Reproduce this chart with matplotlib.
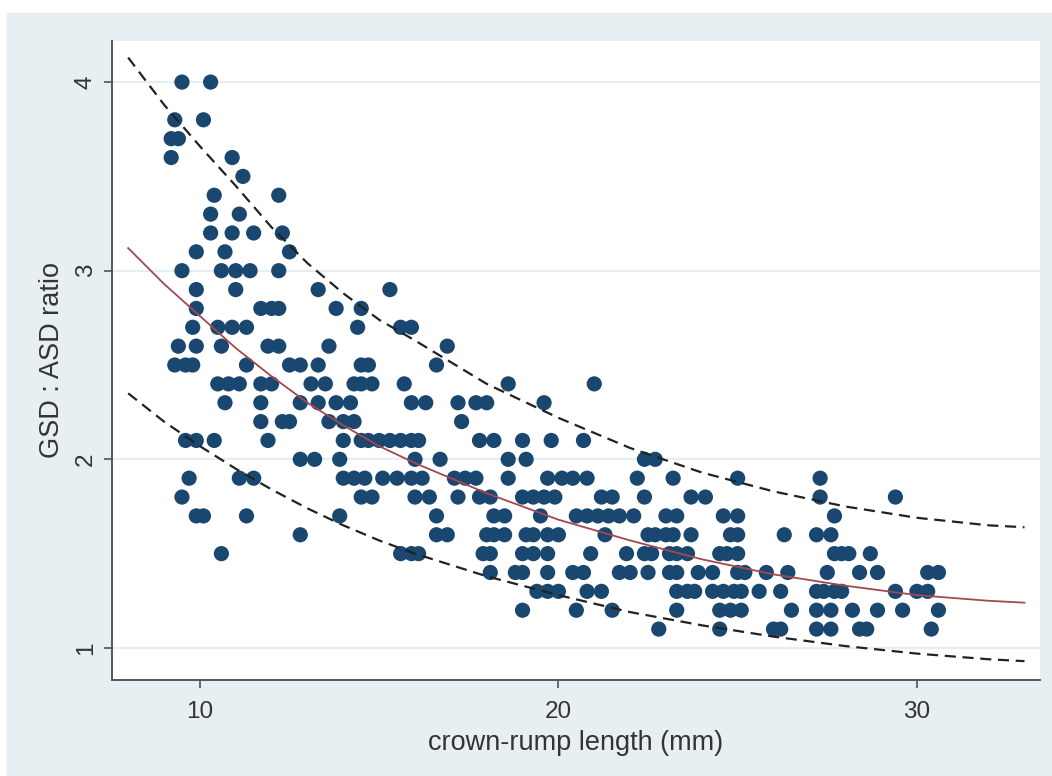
# GSD : ASD ratio against crown-rump length, Stata style scatter with fit and limits
import matplotlib
matplotlib.use("Agg")
import numpy as np
import matplotlib.pyplot as plt
from matplotlib.patches import Rectangle

# scatter data, crown-rump length (mm) at each ratio level
crl_40 = [9.5, 10.3]
crl_38 = [9.3, 10.1]
crl_37 = [9.2, 9.4]
crl_36 = [9.2, 10.9]
crl_35 = [11.2]
crl_34 = [10.4, 12.2]
crl_33 = [10.3, 11.1]
crl_32 = [10.3, 10.9, 11.5, 12.3]
crl_31 = [9.9, 10.7, 12.5]
crl_30 = [9.5, 10.6, 11.0, 11.4, 12.2]
crl_29 = [9.9, 11.0, 13.3, 15.3]
crl_28 = [9.9, 11.7, 12.0, 12.2, 13.8, 14.5]
crl_27 = [9.8, 10.5, 10.9, 11.3, 14.4, 15.6, 15.9]
crl_26 = [9.4, 9.9, 10.6, 11.9, 12.2, 13.6, 16.9]
crl_25 = [9.3, 9.6, 9.8, 11.3, 12.5, 12.8, 13.3, 14.5, 14.7, 16.6]
crl_24 = [10.5, 10.8, 11.1, 11.7, 12.0, 13.1, 13.5, 14.3, 14.5, 14.8, 15.7, 18.6, 21.0]
crl_23 = [10.7, 11.7, 12.8, 13.3, 13.8, 14.2, 15.9, 16.3, 17.2, 17.7, 18.0, 19.6]
crl_22 = [11.7, 12.3, 12.5, 13.6, 14.0, 14.3, 17.3]
crl_21 = [9.6, 9.9, 10.4, 11.9, 14.0, 14.5, 14.7, 15.0, 15.3, 15.6, 15.9, 16.1,
          17.8, 18.2, 19.0, 19.8, 20.7]
crl_20 = [12.8, 13.2, 13.9, 16.0, 16.7, 18.6, 19.1, 22.4, 22.7]
crl_19 = [9.7, 11.1, 11.5, 14.0, 14.3, 14.6, 15.1, 15.5, 15.9, 16.2, 17.1, 17.4,
          17.7, 18.6, 19.7, 20.1, 20.4, 20.8, 22.2, 23.2, 25.0, 27.3]
crl_18 = [9.5, 14.5, 14.8, 16.0, 16.4, 17.2, 17.8, 18.1, 19.0, 19.3, 19.6, 19.9,
          21.2, 21.5, 22.4, 23.7, 24.1, 27.3, 29.4]
crl_17 = [9.9, 10.1, 11.3, 13.9, 16.6, 18.2, 18.5, 19.5, 20.5, 20.8, 21.1, 21.4,
          21.7, 22.1, 23.0, 23.3, 24.6, 25.0, 27.7]
crl_16 = [12.8, 16.6, 16.9, 18.0, 18.2, 18.5, 19.1, 19.3, 19.7, 20.0, 21.3, 22.5,
          22.7, 23.0, 23.2, 23.7, 24.8, 25.0, 26.3, 27.2, 27.6]
crl_15 = [10.6, 15.6, 15.9, 16.1, 17.9, 18.1, 19.0, 19.3, 19.7, 20.9, 21.9, 22.4,
          22.6, 23.1, 23.3, 23.6, 24.5, 24.7, 25.0, 27.7, 27.9, 28.1, 28.7]
crl_14 = [18.1, 18.8, 19.0, 19.7, 20.4, 20.7, 21.7, 22.0, 22.5, 23.1, 23.3, 23.9,
          24.3, 25.0, 25.2, 25.8, 26.4, 27.5, 28.4, 28.9, 30.3, 30.6]
crl_13 = [19.4, 19.7, 20.0, 20.8, 21.2, 23.3, 23.6, 23.8, 24.3, 24.6, 24.9, 25.1,
          25.6, 26.2, 27.2, 27.4, 27.7, 27.9, 29.4, 30.0, 30.3]
crl_12 = [19.0, 20.5, 21.5, 23.3, 24.5, 24.8, 25.1, 26.5, 27.2, 27.6, 28.2, 28.9,
          29.6, 30.6]
crl_11 = [22.8, 24.5, 26.0, 26.2, 27.2, 27.6, 28.4, 28.6, 30.4]

ratio_levels = [4.0, 3.8, 3.7, 3.6, 3.5, 3.4, 3.3, 3.2, 3.1, 3.0, 2.9, 2.8, 2.7, 2.6,
                2.5, 2.4, 2.3, 2.2, 2.1, 2.0, 1.9, 1.8, 1.7, 1.6, 1.5, 1.4, 1.3,
                1.2, 1.1]
crl_rows = [crl_40, crl_38, crl_37, crl_36, crl_35, crl_34, crl_33, crl_32, crl_31,
            crl_30, crl_29, crl_28, crl_27, crl_26, crl_25, crl_24, crl_23, crl_22,
            crl_21, crl_20, crl_19, crl_18, crl_17, crl_16, crl_15, crl_14, crl_13,
            crl_12, crl_11]

# fitted mean and limits
fit_x = [8, 9, 10, 11, 12, 13, 14, 15, 16, 18, 20, 22, 24, 26, 28, 30, 32, 33]
fit_mid = [3.12, 2.93, 2.76, 2.59, 2.44, 2.30, 2.18, 2.07, 1.98, 1.82, 1.68, 1.57,
           1.47, 1.39, 1.33, 1.28, 1.25, 1.24]
fit_hi = [4.13, 3.88, 3.66, 3.45, 3.23, 3.04, 2.88, 2.74, 2.63, 2.40, 2.22, 2.06,
          1.93, 1.83, 1.75, 1.69, 1.65, 1.64]
fit_lo = [2.35, 2.20, 2.07, 1.95, 1.84, 1.74, 1.65, 1.57, 1.50, 1.38, 1.28, 1.19,
          1.12, 1.06, 1.01, 0.97, 0.94, 0.93]

xticks = [10, 20, 30]
yticks = [1, 2, 3, 4]

crl = np.concatenate([np.array(r) for r in crl_rows])
ratio = np.concatenate([np.full(len(r), v) for r, v in zip(crl_rows, ratio_levels)])

plt.rcParams['font.family'] = ['Liberation Sans', 'DejaVu Sans']

fig = plt.figure(figsize=(10.52, 7.76), dpi=100, facecolor='white')
fig.patches.append(Rectangle((7/1052, 0), 1 - 7/1052, 1 - 13/776,
                             transform=fig.transFigure, color='#e8eff2', zorder=-5))

ax = fig.add_axes([0.1065, 0.1237, 0.882, 0.824])
ax.set_facecolor('white')

for v in yticks:
    ax.axhline(v, color='#e6eef1', lw=1.6, zorder=0)

ax.scatter(crl, ratio, s=120, color='#1a476f', edgecolors='none', zorder=2)
ax.plot(fit_x, fit_mid, color='#a5474e', lw=1.3, zorder=3)
ax.plot(fit_x, fit_hi, color='#222222', lw=1.6, ls=(0, (5, 3)), zorder=3)
ax.plot(fit_x, fit_lo, color='#222222', lw=1.6, ls=(0, (5, 3)), zorder=3)

ax.set_xlim(7.55, 33.43)
ax.set_ylim(0.83, 4.22)
ax.set_xticks(xticks)
ax.set_yticks(yticks)
ax.set_yticklabels([str(t) for t in yticks], rotation=90, va='center')

for s in ['top', 'right']:
    ax.spines[s].set_visible(False)
for s in ['left', 'bottom']:
    ax.spines[s].set_color('#555555')
    ax.spines[s].set_linewidth(1.4)
ax.tick_params(axis='both', direction='out', length=6, width=1.2, color='#555555',
               labelsize=17.5, labelcolor='#333333', pad=5)
ax.tick_params(axis='x', pad=9)

ax.set_xlabel("crown-rump length (mm)", fontsize=19.5, color='#333333', labelpad=5)
ax.set_ylabel("GSD : ASD ratio", fontsize=19.5, color='#333333', labelpad=7)

fig.savefig("out.png", dpi=100, facecolor=fig.get_facecolor())
